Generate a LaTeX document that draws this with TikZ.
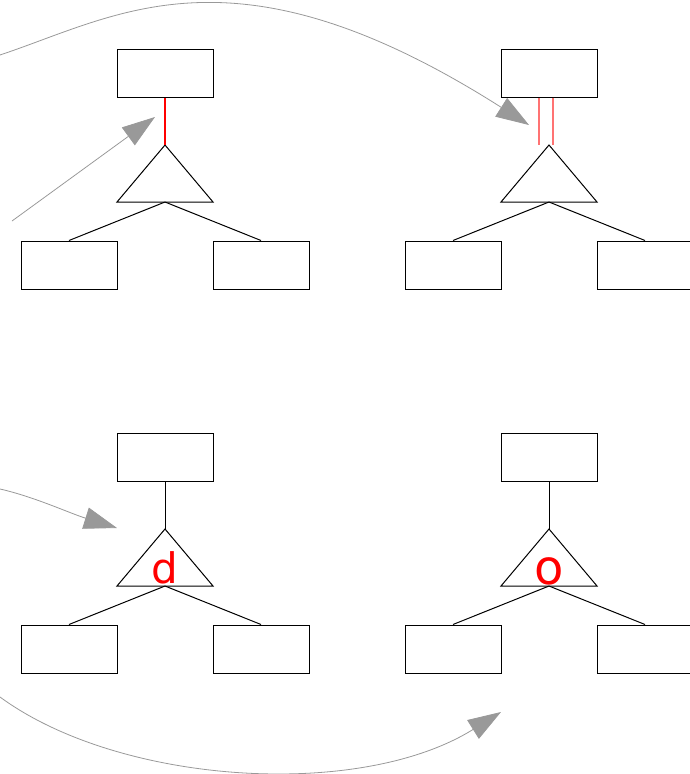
\documentclass[tikz,border=0pt]{standalone}
\usepackage{fontspec}
\newfontfamily\lettersf{DejaVu Sans}
\usetikzlibrary{arrows.meta}
\definecolor{flowgray}{HTML}{999999}
\tikzset{
  box/.style={draw=black, line width=1pt, minimum width=96pt, minimum height=48pt, inner sep=0pt},
  edge/.style={draw=black, line width=1pt},
  redlink/.style={color=red, line width=1.05pt},
  softlink/.style={color=red!55, line width=1.1pt},
  flow/.style={draw=flowgray, line width=0.8pt, -{Triangle[length=33pt,width=22pt,fill=flowgray]}},
  letter/.style={text=red, inner sep=0pt, anchor=base},
  subtree/.pic={
    \node[box] (-top) at (0,-72) {};
    \coordinate (-apex) at (0,0);
    \coordinate (-bl) at (-48,57);
    \coordinate (-br) at (48,57);
    \coordinate (-base) at (0,57);
    \draw[edge, line join=miter] (-apex) -- (-bl) -- (-br) -- cycle;
    \node[box] (-left) at (-96,120) {};
    \node[box] (-right) at (96,120) {};
    \draw[edge] (-base) -- (-left.north);
    \draw[edge] (-base) -- (-right.north);
  }
}
\begin{document}
\begin{tikzpicture}[x=1pt, y=-1pt]
  \useasboundingbox (0,0) rectangle (690,774);

  % four small trees
  \pic (tl) at (165,145) {subtree};
  \pic (tr) at (549,145) {subtree};
  \pic (bl) at (165,529) {subtree};
  \pic (br) at (549,529) {subtree};

  % links between each top box and its triangle
  \draw[redlink] (tl-top.south) -- (tl-apex);
  \draw[softlink] ([xshift=-10pt]tr-top.south) -- ([xshift=-10pt]tr-apex);
  \draw[softlink] ([xshift=4pt]tr-top.south) -- ([xshift=4pt]tr-apex);
  \draw[edge] (bl-top.south) -- (bl-apex);
  \draw[edge] (br-top.south) -- (br-apex);

  % labels inside the lower triangles
  \node[letter, font=\lettersf\fontsize{42}{42}\selectfont] (dmark) at (164.5,583.5) {d};
  \node[letter, font=\lettersf\fontsize{48}{48}\selectfont] (omark) at (549.5,584) {o};

  % flow arrows
  \coordinate (a1s) at (12,221);
  \coordinate (a1e) at (155,117);
  \coordinate (a2s) at (0,55);
  \coordinate (a2e) at (529,125);
  \coordinate (a3s) at (0,489);
  \coordinate (a3e) at (117,528);
  \coordinate (a4s) at (0,697);
  \coordinate (a4e) at (501,712);

  \draw[flow] (a1s) -- (a1e);
  \draw[flow] (a2s) .. controls (120,15) and (235,-62) .. (a2e);
  \draw[flow] (a3s) .. controls (35,497) and (69,513) .. (a3e);
  \draw[flow] (a4s) .. controls (120,785) and (360,800) .. (a4e);
\end{tikzpicture}
\end{document}
